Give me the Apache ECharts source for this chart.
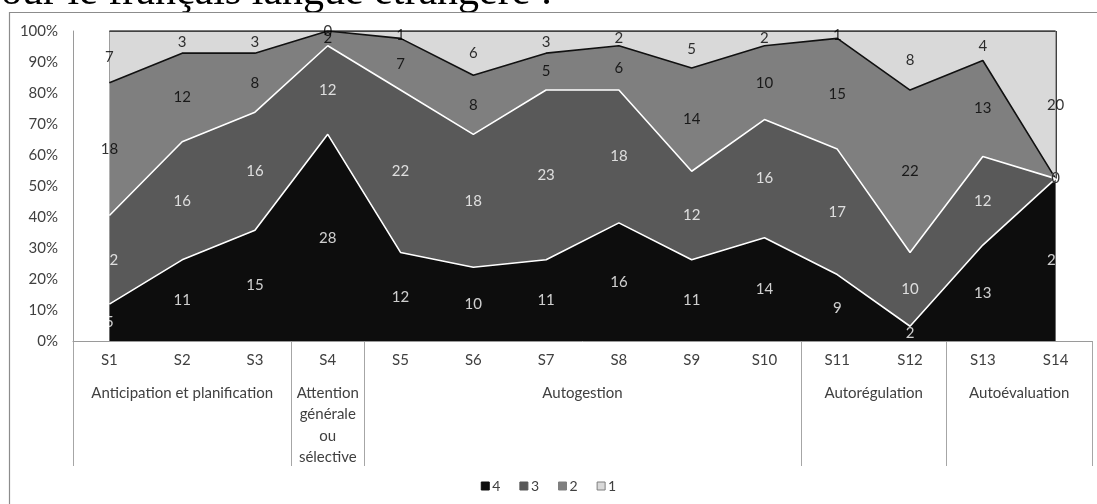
<!DOCTYPE html>
<html>
<head>
<meta charset="utf-8">
<script src="https://cdn.jsdelivr.net/npm/echarts@6/dist/echarts.min.js"></script>
<style>
  html, body { margin: 0; padding: 0; background: #fff; }
  #chart { width: 1097px; height: 504px; }
</style>
</head>
<body>
<div id="chart"></div>
<script>
// Strategies S1..S14 and the number of answers at each level (4 = highest)
const categories = ['S1', 'S2', 'S3', 'S4', 'S5', 'S6', 'S7', 'S8', 'S9', 'S10', 'S11', 'S12', 'S13', 'S14'];
const level4 = [5, 11, 15, 28, 12, 10, 11, 16, 11, 14, 9, 2, 13, 22];
const level3 = [12, 16, 16, 12, 22, 18, 23, 18, 12, 16, 17, 10, 12, 0];
const level2 = [18, 12, 8, 2, 7, 8, 5, 6, 14, 10, 15, 22, 13, 0];
const level1 = [7, 3, 3, 0, 1, 6, 3, 2, 5, 2, 1, 8, 4, 20];
const levelNames = ['4', '3', '2', '1'];

// Strategy families and how many strategies each one covers
const groupNames = ['Anticipation et planification', 'Attention\ngénérale\nou\nsélective', 'Autogestion', 'Autorégulation', 'Autoévaluation'];
const groupSpans = [3, 1, 6, 2, 2];

const yTicks = [0, 10, 20, 30, 40, 50, 60, 70, 80, 90, 100];

const FONT = 'Lato';
const FS = 15;
const levels = [level4, level3, level2, level1];
const fills = ['#0d0d0d', '#595959', '#7f7f7f', '#d9d9d9'];
const edgeColors = ['#ffffff', '#ffffff', '#111111', '#111111'];
const labelColors = ['#ffffff', '#ffffff', '#000000', '#000000'];

// Per-category totals -> percentage shares (100 % stacked)
const totals = categories.map((_, i) => levels.reduce((s, arr) => s + arr[i], 0));
const shares = levels.map(arr => arr.map((v, i) => v / totals[i] * 100));
const cumBelow = levels.map((_, k) =>
  categories.map((_, i) => { let s = 0; for (let j = 0; j < k; j++) s += shares[j][i]; return s; }));

// Group boundaries (category index where each family starts)
const groupStarts = [];
groupSpans.reduce((acc, n) => { groupStarts.push(acc); return acc + n; }, 0);

// Half-step slots for the family row: slot j sits at j * (band / 2)
const halfSlots = new Array(categories.length * 2 + 1).fill('');
groupNames.forEach((g, k) => { halfSlots[groupStarts[k] * 2 + groupSpans[k]] = g; });

const chart = echarts.init(document.getElementById('chart'), null, { renderer: 'canvas' });

const areaSeries = levels.map((arr, k) => ({
  name: levelNames[k],
  type: 'line',
  stack: 'total',
  xAxisIndex: 0, yAxisIndex: 0,
  data: shares[k],
  showSymbol: false,
  symbol: 'none',
  z: 10 - k,
  lineStyle: { color: edgeColors[k], width: 1.6 },
  itemStyle: { color: fills[k] },
  areaStyle: { color: fills[k], opacity: 1 },
  emphasis: { disabled: true },
  markLine: k === 3 ? {
    silent: true,
    symbol: ['none', 'none'],
    label: { show: false },
    lineStyle: { color: '#111111', width: 1.6, type: 'solid' },
    data: [0, categories.length - 1].map(i => [
      { coord: [i, cumBelow[3][i]] },
      { coord: [i, 100] }
    ])
  } : undefined
}));

// Value labels centred in each band
const labelSeries = levels.map((arr, k) => ({
  name: 'val' + levelNames[k],
  type: 'scatter',
  xAxisIndex: 0, yAxisIndex: 0,
  symbolSize: 0,
  silent: true,
  z: 20,
  clip: false,
  data: arr.map((v, i) => [i, cumBelow[k][i] + shares[k][i] / 2, v]),
  label: {
    show: true,
    position: 'inside',
    formatter: p => String(p.value[2]),
    color: labelColors[k],
    fontFamily: FONT,
    fontSize: FS
  }
}));

const option = {
  animation: false,
  backgroundColor: '#ffffff',
  textStyle: { fontFamily: FONT },
  grid: [
    { left: 73, right: 5, top: 31, height: 310 },
    { left: 73, right: 5, top: 341, height: 125 },
    { left: 73, right: 5, top: 341, height: 125 }
  ],
  xAxis: [
    {
      gridIndex: 0,
      type: 'category',
      data: categories,
      boundaryGap: true,
      axisLine: { show: true, lineStyle: { color: '#9a9a9a', width: 1 } },
      axisTick: { show: false },
      axisLabel: { show: true, margin: 12, interval: 0, color: '#404040', fontFamily: FONT, fontSize: FS },
      splitLine: { show: false }
    },
    {
      gridIndex: 1,
      type: 'category',
      data: categories,
      boundaryGap: true,
      axisLine: { show: false },
      axisTick: { show: false },
      axisLabel: { show: false },
      splitLine: {
        show: true,
        interval: idx => groupStarts.indexOf(idx) >= 0,
        lineStyle: { color: '#a6a6a6', width: 1 }
      }
    },
    {
      gridIndex: 2,
      type: 'category',
      position: 'top',
      data: halfSlots,
      boundaryGap: false,
      axisLine: { show: false },
      axisTick: { show: false },
      splitLine: { show: false },
      axisLabel: {
        show: true, inside: true, margin: 41, interval: 0,
        color: '#404040', fontFamily: FONT, fontSize: FS, lineHeight: 21.5, align: 'center'
      }
    }
  ],
  yAxis: [
    {
      gridIndex: 0,
      type: 'value',
      min: yTicks[0], max: yTicks[yTicks.length - 1], interval: yTicks[1] - yTicks[0],
      axisLine: { show: true, lineStyle: { color: '#9a9a9a', width: 1 } },
      axisTick: { show: false },
      splitLine: { show: false },
      axisLabel: { formatter: '{value}%', margin: 15, color: '#404040', fontFamily: FONT, fontSize: FS }
    },
    { gridIndex: 1, type: 'value', show: false },
    { gridIndex: 2, type: 'value', show: false }
  ],
  legend: {
    bottom: 6,
    left: 'center',
    icon: 'rect',
    itemWidth: 8,
    itemHeight: 8,
    itemGap: 19,
    selectedMode: false,
    textStyle: { color: '#404040', fontFamily: FONT, fontSize: 14, padding: [0, 0, 0, -2] },
    data: levelNames.map((n, k) => ({
      name: n,
      itemStyle: { color: fills[k], borderColor: k === 3 ? '#7f7f7f' : fills[k], borderWidth: 1 }
    }))
  },
  graphic: [
    {
      type: 'text',
      left: -20,
      top: -28,
      silent: true,
      style: {
        text: 'pour le français langue étrangère :',
        fontSize: 42,
        fontFamily: 'Liberation Serif',
        fill: '#000'
      }
    },
    {
      type: 'rect',
      silent: true,
      shape: { x: 9.5, y: 12.5, width: 1200, height: 600 },
      style: { fill: 'none', stroke: '#8c8c8c', lineWidth: 1.2 }
    }
  ],
  series: areaSeries.concat(labelSeries)
};

chart.setOption(option);
</script>
</body>
</html>
